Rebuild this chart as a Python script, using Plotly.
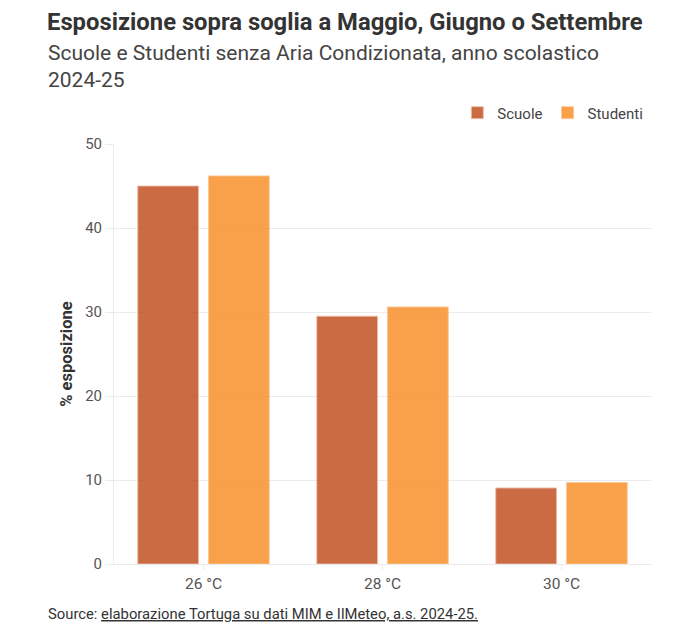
import plotly.graph_objects as go

# data
soglie = ["26 °C", "28 °C", "30 °C"]
scuole = [45.0, 29.5, 9.05]
studenti = [46.2, 30.6, 9.7]

FONT = "Roboto"

fig = go.Figure()
fig.add_trace(go.Bar(x=soglie, y=scuole, name="Scuole",
                     marker=dict(color="rgba(192,74,26,0.82)",
                                 line=dict(color="rgba(240,190,170,0.9)", width=1))))
fig.add_trace(go.Bar(x=soglie, y=studenti, name="Studenti",
                     marker=dict(color="rgba(248,139,34,0.82)",
                                 line=dict(color="rgba(252,200,150,0.9)", width=1))))

# page body has an 8px margin, so the figure is a bit smaller than the window
fig.update_layout(
    width=684, height=618,
    template="plotly_white",
    font=dict(family=FONT, size=14, color="#555555"),
    margin=dict(l=106, r=41, t=136, b=62),
    barmode="group",
    bargap=0.21,
    bargroupgap=0.14,
    plot_bgcolor="white",
    paper_bgcolor="white",
    showlegend=True,
    legend=dict(orientation="h", x=0.995, xanchor="right", y=1.074, yanchor="middle",
                font=dict(size=15, color="#444444"), itemwidth=30,
                traceorder="normal"),
    title=dict(text="<b>Esposizione sopra soglia a Maggio, Giugno o Settembre</b>",
               xref="container", x=39 / 684, xanchor="left",
               yref="container", y=0.991, yanchor="top",
               font=dict(size=23.8, color="#333333", family=FONT)),
)

fig.add_annotation(text="Scuole e Studenti senza Aria Condizionata, anno scolastico<br>2024-25",
                   xref="paper", yref="paper", x=-0.126, y=1.25, xanchor="left", yanchor="top",
                   align="left", showarrow=False,
                   font=dict(size=21, color="#444444", family=FONT))
fig.add_annotation(text='Source: <span style="text-decoration:underline">elaborazione Tortuga su dati MIM e IlMeteo, a.s. 2024-25.</span>',
                   xref="paper", yref="paper", x=-0.126, y=-0.118, xanchor="left", yanchor="middle",
                   align="left", showarrow=False,
                   font=dict(size=14.8, color="#333333", family=FONT))

fig.update_yaxes(range=[0, 50], dtick=10, showgrid=True, gridcolor="#ebebeb",
                 showline=True, linecolor="#ebebeb", zeroline=False,
                 ticks="outside", ticklen=8, tickcolor="#ebebeb",
                 tickfont=dict(size=15, color="#555555"),
                 title=dict(text="<b>% esposizione</b>", standoff=8,
                            font=dict(size=16.5, color="#333333")))
fig.update_xaxes(showline=True, linecolor="#ebebeb", showgrid=False,
                 ticks="outside", ticklen=5, tickcolor="#ebebeb",
                 tickfont=dict(size=15.5, color="#555555"))

fig.write_html("out.html")
